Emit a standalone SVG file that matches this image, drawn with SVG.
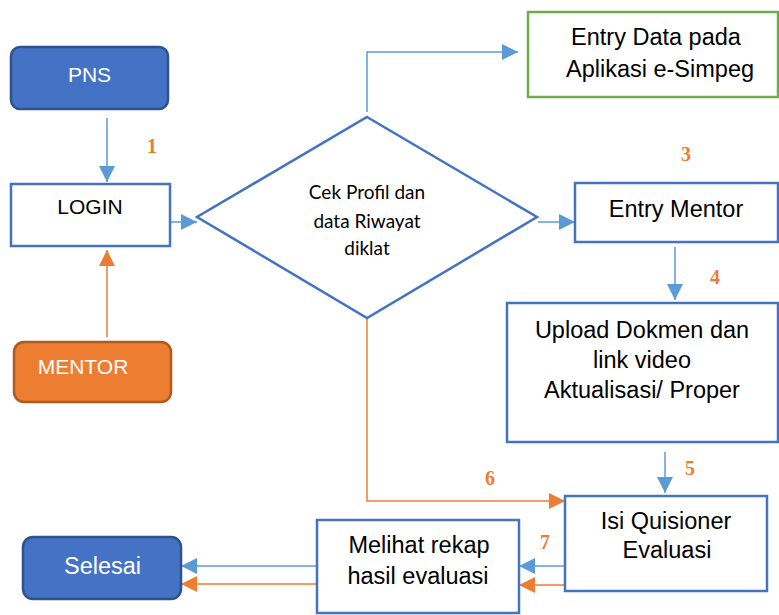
<svg xmlns="http://www.w3.org/2000/svg" width="779" height="615" viewBox="0 0 779 615">
<defs>
<style>
.box{fill:#fff;stroke:#4472C4;stroke-width:2.5}
.term{fill:#4472C4;stroke:#2F528F;stroke-width:2.5}
.t{font-family:"Liberation Sans",Arial,sans-serif;font-size:23.5px;fill:#000;text-anchor:middle}
.tw{font-family:"Liberation Sans",Arial,sans-serif;font-size:21px;fill:#fff;text-anchor:middle}
.num{font-family:"Liberation Serif","Times New Roman",serif;font-weight:bold;font-size:20px;fill:#ED7D31;text-anchor:middle}
.dt{font-family:Lato,"Open Sans",sans-serif;font-size:19px;fill:#000;text-anchor:middle}
.cb{fill:none;stroke:#5B9BD5;stroke-width:1.5}
.co{fill:none;stroke:#ED7D31;stroke-width:1.5}
</style>
<marker id="ab" markerUnits="userSpaceOnUse" markerWidth="16" markerHeight="16" refX="16" refY="8" orient="auto"><path d="M0,0L16,8L0,16z" fill="#5B9BD5"/></marker>
<marker id="ao" markerUnits="userSpaceOnUse" markerWidth="16" markerHeight="16" refX="16" refY="8" orient="auto"><path d="M0,0L16,8L0,16z" fill="#ED7D31"/></marker>
</defs>
<rect width="779" height="615" fill="#fff"/>
<g id="connectors">
<path class="cb" d="M107,118V182" marker-end="url(#ab)"/>
<path class="co" d="M107,337V250" marker-end="url(#ao)"/>
<path class="cb" d="M171,222H197" marker-end="url(#ab)"/>
<path class="cb" d="M367,112V52H518" marker-end="url(#ab)"/>
<path class="cb" d="M538,222H575" marker-end="url(#ab)"/>
<path class="cb" d="M675,247V300" marker-end="url(#ab)"/>
<path class="cb" d="M665,452V493" marker-end="url(#ab)"/>
<path class="co" d="M367,319V501H565" marker-end="url(#ao)"/>
<path class="cb" d="M565,566H519" marker-end="url(#ab)"/>
<path class="co" d="M565,585H519" marker-end="url(#ao)"/>
<path class="cb" d="M317,566H181" marker-end="url(#ab)"/>
<path class="co" d="M317,584H181" marker-end="url(#ao)"/>
</g>
<g id="labels">
<text class="num" x="152" y="153">1</text>
<text class="num" x="370" y="164">2</text>
<text class="num" x="686" y="161">3</text>
<text class="num" x="715" y="284">4</text>
<text class="num" x="690" y="475">5</text>
<text class="num" x="490" y="485">6</text>
<text class="num" x="545" y="549">7</text>
</g>
<g id="pns">
<rect class="term" x="11" y="47" width="157" height="62" rx="9"/>
<text class="tw" x="89.5" y="82">PNS</text>
</g>
<g id="login">
<rect class="box" x="11" y="184" width="159" height="62"/>
<text class="t" x="90" y="214" style="font-size:21px">LOGIN</text>
</g>
<g id="mentor">
<rect x="14" y="342" width="157" height="60" rx="10" fill="#ED7D31" stroke="#AE5A21" stroke-width="2.5"/>
<text class="tw" x="83" y="374">MENTOR</text>
</g>
<g id="cek">
<polygon class="box" points="367,117 537,217 367,318 197,217"/>
<text class="dt" x="367" y="199">Cek Profil dan</text>
<text class="dt" x="367" y="228">data Riwayat</text>
<text class="dt" x="367" y="255">diklat</text>
</g>
<g id="entry-data">
<rect x="528" y="12" width="250" height="85" fill="#fff" stroke="#70AD47" stroke-width="2.5"/>
<text class="t" x="656" y="45">Entry Data pada</text>
<text class="t" x="660" y="77">Aplikasi e-Simpeg</text>
</g>
<g id="entry-mentor">
<rect class="box" x="575" y="183" width="203" height="59"/>
<text class="t" x="676" y="217">Entry Mentor</text>
</g>
<g id="upload">
<rect class="box" x="507" y="303" width="271" height="139"/>
<text class="t" x="642" y="338">Upload Dokmen dan</text>
<text class="t" x="642" y="368">link video</text>
<text class="t" x="642" y="398">Aktualisasi/ Proper</text>
</g>
<g id="isi">
<rect class="box" x="565" y="496" width="202" height="95"/>
<text class="t" x="666" y="529">Isi Quisioner</text>
<text class="t" x="667" y="558">Evaluasi</text>
</g>
<g id="melihat">
<rect class="box" x="317" y="520" width="202" height="93"/>
<text class="t" x="419" y="553">Melihat rekap</text>
<text class="t" x="418" y="584">hasil evaluasi</text>
</g>
<g id="selesai">
<rect class="term" x="23" y="537" width="158" height="62" rx="10"/>
<text class="tw" x="102.5" y="574" style="font-size:23.5px">Selesai</text>
</g>
</svg>
